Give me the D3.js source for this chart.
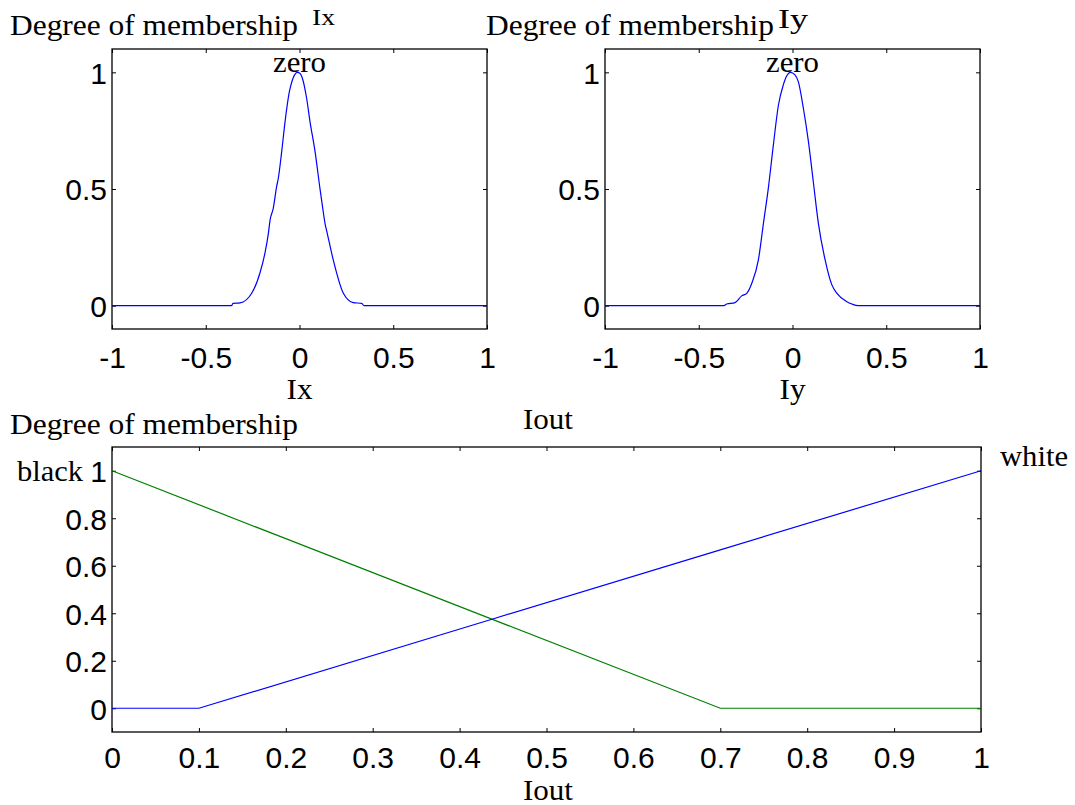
<!DOCTYPE html>
<html>
<head>
<meta charset="utf-8">
<script src="https://cdn.jsdelivr.net/npm/d3@7"></script>
<style>
  body { margin: 0; background: #fff; }
  svg { display: block; }
  .serif { font-family: "Liberation Serif", "Times New Roman", serif; fill: #000; }
</style>
</head>
<body>
<svg width="1075" height="805"></svg>
<script>
// ---- data ----
const ixTicks = [-1, -0.5, 0, 0.5, 1]
const yTopTicks = [0, 0.5, 1]
const ioutTicks = [0, 0.1, 0.2, 0.3, 0.4, 0.5, 0.6, 0.7, 0.8, 0.9, 1]
const yBotTicks = [0, 0.2, 0.4, 0.6, 0.8, 1]

// "zero" membership function of Ix
const ixZero = [
  [-1, 0], [-0.362, 0], [-0.355, 0.01], [-0.317, 0.012], [-0.255, 0.053],
  [-0.211, 0.14], [-0.184, 0.226], [-0.166, 0.31], [-0.157, 0.367],
  [-0.14, 0.417], [-0.122, 0.51], [-0.113, 0.546], [-0.095, 0.66],
  [-0.077, 0.789], [-0.054, 0.917], [-0.04, 0.962], [-0.027, 0.988],
  [-0.012, 1], [0.002, 0.996], [0.014, 0.978], [0.038, 0.889],
  [0.056, 0.789], [0.083, 0.66], [0.109, 0.503], [0.124, 0.417],
  [0.136, 0.353], [0.148, 0.31], [0.18, 0.196], [0.234, 0.053],
  [0.287, 0.013], [0.332, 0.01], [0.344, 0], [1, 0]
]

// "zero" membership function of Iy
const iyZero = [
  [-1, 0], [-0.365, 0], [-0.351, 0.007], [-0.307, 0.013], [-0.271, 0.042],
  [-0.244, 0.053], [-0.217, 0.096], [-0.182, 0.196], [-0.155, 0.353],
  [-0.129, 0.503], [-0.102, 0.689], [-0.075, 0.86], [-0.049, 0.946],
  [-0.032, 0.983], [-0.01, 1], [0.012, 0.99], [0.031, 0.96],
  [0.058, 0.846], [0.085, 0.703], [0.111, 0.531], [0.138, 0.353],
  [0.174, 0.196], [0.21, 0.089], [0.237, 0.053], [0.29, 0.017],
  [0.317, 0.007], [0.352, 0], [1, 0]
]

// Iout membership functions
const ioutBlack = [[0, 1], [0.2, 0.714], [0.44, 0.371], [0.7, 0], [1, 0]]
const ioutWhite = [[0, 0], [0.1, 0], [0.44, 0.378], [0.7, 0.667], [1, 1]]

const svg = d3.select('svg')
const fmt = d => String(d)   // plain hyphen minus like the original

const drawPanel = function(opt) {
  const x = d3.scaleLinear().domain(opt.xDomain).range([opt.left, opt.right])
  const y = d3.scaleLinear().domain([-0.1, 1.1]).range([opt.bottom, opt.top])
  const g = svg.append('g')

  const styleAxis = function(sel) {
    sel.select('.domain').remove()
    sel.selectAll('line').attr('stroke', '#000')
    sel.selectAll('text')
      .attr('font-family', '"Liberation Sans", Arial, sans-serif')
      .attr('font-size', 30)
      .attr('fill', '#000')
  }

  g.append('g')
    .attr('transform', `translate(0,${opt.bottom})`)
    .call(d3.axisBottom(x).tickValues(opt.xTicks).tickSize(-4).tickFormat(fmt))
    .call(styleAxis)
    .selectAll('text').attr('y', opt.xLabelY - opt.bottom).attr('dy', 0)

  g.append('g')
    .attr('transform', `translate(0,${opt.top})`)
    .call(d3.axisTop(x).tickValues(opt.xTicks).tickSize(-4).tickFormat(''))
    .call(styleAxis)

  g.append('g')
    .attr('transform', `translate(${opt.left},0)`)
    .call(d3.axisLeft(y).tickValues(opt.yTicks).tickSize(-4).tickFormat(fmt))
    .call(styleAxis)
    .selectAll('text').attr('x', -5).attr('dy', '0.36em')

  g.append('g')
    .attr('transform', `translate(${opt.right},0)`)
    .call(d3.axisRight(y).tickValues(opt.yTicks).tickSize(-4).tickFormat(''))
    .call(styleAxis)

  g.append('rect')
    .attr('x', opt.left).attr('y', opt.top)
    .attr('width', opt.right - opt.left).attr('height', opt.bottom - opt.top)
    .attr('fill', 'none').attr('stroke', '#000').attr('stroke-width', 1.3)

  const line = d3.line().x(d => x(d[0])).y(d => y(d[1])).curve(opt.curve || d3.curveLinear)
  opt.series.forEach(s => {
    g.append('path')
      .datum(s.data)
      .attr('d', line)
      .attr('fill', 'none')
      .attr('stroke', s.color)
      .attr('stroke-width', 1.2)
  })
  return { x, y }
}

const label = function(text, x, y, size, width, anchor) {
  svg.append('text')
    .attr('class', 'serif')
    .attr('x', x).attr('y', y)
    .attr('font-size', size)
    .attr('text-anchor', anchor || 'start')
    .attr('textLength', width)
    .attr('lengthAdjust', 'spacingAndGlyphs')
    .text(text)
}

// top left: Ix
const p1 = drawPanel({
  left: 112, right: 487, top: 49, bottom: 329, xLabelY: 368,
  xDomain: [-1, 1], xTicks: ixTicks, yTicks: yTopTicks,
  curve: d3.curveMonotoneX,
  series: [{ data: ixZero, color: '#0000ff' }]
})
label('Degree of membership', 10, 35, 30, 288)
label('Ix', 312, 25, 24, 23)
label('zero', p1.x(0), 72, 30, 53, 'middle')
label('Ix', p1.x(0), 399, 30, 26, 'middle')

// top right: Iy
const p2 = drawPanel({
  left: 605, right: 980, top: 49, bottom: 329, xLabelY: 368,
  xDomain: [-1, 1], xTicks: ixTicks, yTicks: yTopTicks,
  curve: d3.curveMonotoneX,
  series: [{ data: iyZero, color: '#0000ff' }]
})
label('Degree of membership', 486, 35, 30, 288)
label('Iy', 778, 28, 28, 30)
label('zero', p2.x(0), 72, 30, 53, 'middle')
label('Iy', p2.x(0), 399, 30, 26, 'middle')

// bottom: Iout
drawPanel({
  left: 112, right: 981, top: 447, bottom: 732, xLabelY: 768,
  xDomain: [0, 1], xTicks: ioutTicks, yTicks: yBotTicks,
  series: [
    { data: ioutBlack, color: '#008000' },
    { data: ioutWhite, color: '#0000ff' }
  ]
})
label('Degree of membership', 10, 434, 30, 288)
label('Iout', 548, 429, 30, 50, 'middle')
label('Iout', 548, 800, 30, 50, 'middle')
label('black', 17, 481, 30, 66)
label('white', 1000, 466, 30, 68)
</script>
</body>
</html>
